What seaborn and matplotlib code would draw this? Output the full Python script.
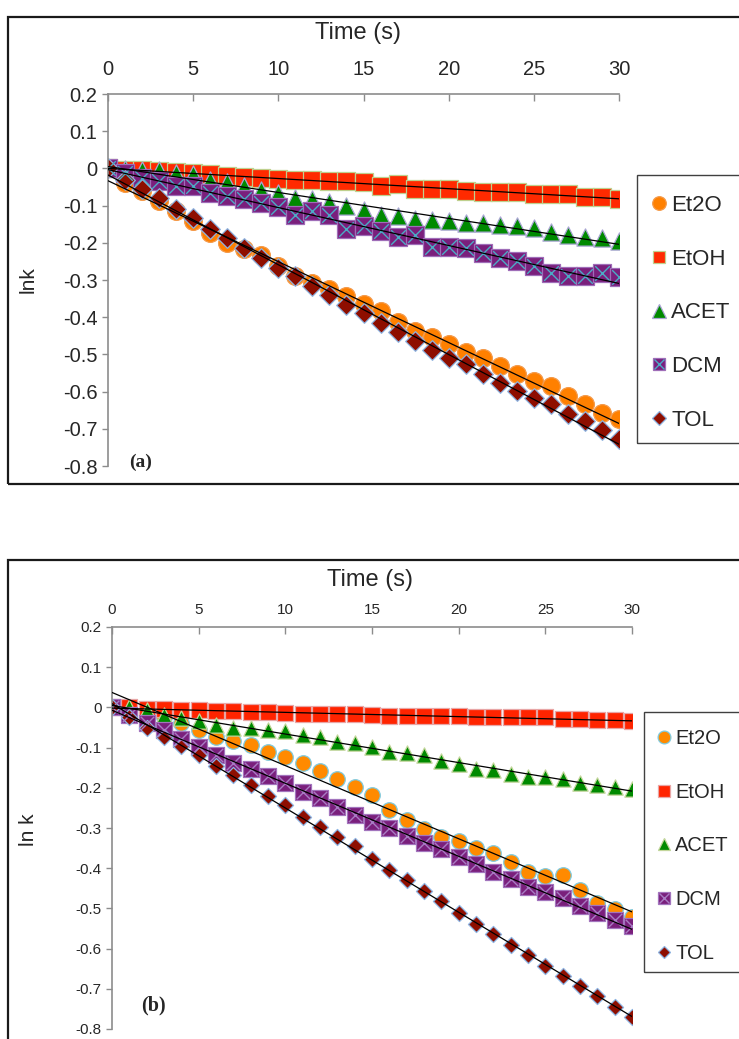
import matplotlib
matplotlib.use("Agg")
import matplotlib.pyplot as plt
from matplotlib.lines import Line2D
from matplotlib.patches import Rectangle
import numpy as np
import pandas as pd
import seaborn as sns

# ---------------------------------------------------------------- data
time_s = list(range(31))
solvents = ["Et2O", "EtOH", "ACET", "DCM", "TOL"]
x_ticks = [0, 5, 10, 15, 20, 25, 30]
y_ticks = [0.2, 0.1, 0, -0.1, -0.2, -0.3, -0.4, -0.5, -0.6, -0.7, -0.8]
y_tick_labels = ["0.2", "0.1", "0", "-0.1", "-0.2", "-0.3", "-0.4", "-0.5", "-0.6", "-0.7", "-0.8"]

# panel (a)
et2o_a = [0, -0.038, -0.062, -0.088, -0.115, -0.142, -0.173, -0.200, -0.218, -0.232,
          -0.263, -0.290, -0.308, -0.325, -0.343, -0.364, -0.384, -0.413, -0.437, -0.452,
          -0.473, -0.494, -0.509, -0.531, -0.554, -0.572, -0.585, -0.612, -0.634, -0.657, -0.673]
etoh_a = [0, -0.003, -0.005, -0.008, -0.010, -0.012, -0.015, -0.020, -0.022, -0.027,
          -0.029, -0.030, -0.031, -0.033, -0.035, -0.037, -0.047, -0.043, -0.055, -0.055,
          -0.056, -0.061, -0.064, -0.064, -0.064, -0.068, -0.070, -0.070, -0.076, -0.076, -0.081]
acet_a = [0, -0.002, -0.003, -0.003, -0.012, -0.016, -0.030, -0.036, -0.048, -0.058,
          -0.067, -0.079, -0.083, -0.091, -0.101, -0.113, -0.124, -0.128, -0.137, -0.139,
          -0.142, -0.146, -0.148, -0.151, -0.155, -0.160, -0.171, -0.178, -0.184, -0.186, -0.195]
dcm_a = [0, -0.012, -0.025, -0.034, -0.046, -0.047, -0.065, -0.074, -0.083, -0.092,
         -0.104, -0.125, -0.115, -0.126, -0.164, -0.155, -0.169, -0.184, -0.178, -0.210,
         -0.210, -0.214, -0.228, -0.241, -0.250, -0.263, -0.282, -0.289, -0.289, -0.280, -0.291]
tol_a = [0, -0.030, -0.056, -0.079, -0.110, -0.133, -0.164, -0.186, -0.213, -0.240,
         -0.267, -0.290, -0.316, -0.339, -0.366, -0.388, -0.415, -0.440, -0.464, -0.487,
         -0.509, -0.527, -0.554, -0.576, -0.599, -0.616, -0.634, -0.661, -0.679, -0.702, -0.728]

# panel (b)
et2o_b = [0, -0.005, -0.013, -0.023, -0.039, -0.055, -0.074, -0.083, -0.094, -0.110,
          -0.124, -0.139, -0.158, -0.179, -0.197, -0.218, -0.254, -0.280, -0.303, -0.322,
          -0.332, -0.350, -0.363, -0.384, -0.409, -0.419, -0.417, -0.454, -0.486, -0.502, -0.522]
etoh_b = [0, 0, -0.003, -0.004, -0.006, -0.006, -0.008, -0.008, -0.011, -0.012,
          -0.014, -0.017, -0.017, -0.017, -0.017, -0.019, -0.021, -0.021, -0.022, -0.022,
          -0.022, -0.025, -0.025, -0.025, -0.025, -0.025, -0.029, -0.029, -0.031, -0.031, -0.035]
acet_b = [0, 0, -0.006, -0.019, -0.027, -0.035, -0.044, -0.050, -0.050, -0.055,
          -0.058, -0.069, -0.074, -0.085, -0.089, -0.098, -0.110, -0.114, -0.118, -0.133,
          -0.141, -0.152, -0.156, -0.166, -0.172, -0.174, -0.179, -0.187, -0.193, -0.197, -0.204]
dcm_b = [0, -0.019, -0.038, -0.056, -0.079, -0.099, -0.118, -0.138, -0.154, -0.171,
         -0.189, -0.210, -0.226, -0.247, -0.268, -0.286, -0.301, -0.320, -0.338, -0.353,
         -0.373, -0.390, -0.409, -0.426, -0.447, -0.459, -0.475, -0.494, -0.512, -0.529, -0.544]
tol_b = [0, -0.025, -0.050, -0.073, -0.096, -0.118, -0.146, -0.168, -0.193, -0.220,
         -0.244, -0.272, -0.298, -0.323, -0.346, -0.377, -0.404, -0.429, -0.456, -0.482,
         -0.511, -0.539, -0.564, -0.590, -0.616, -0.643, -0.668, -0.692, -0.718, -0.745, -0.771]

panel_a = dict(zip(solvents, [et2o_a, etoh_a, acet_a, dcm_a, tol_a]))
panel_b = dict(zip(solvents, [et2o_b, etoh_b, acet_b, dcm_b, tol_b]))

# ---------------------------------------------------------------- styles
# ms: marker size (pt) in the plot, lg: marker size (pt) in the legend
style_a = {
    "Et2O": dict(marker="o", fc="#FF8000", ec="#F49A4A", ms=12.8, lg=9.8),
    "EtOH": dict(marker="s", fc="#FF2A00", ec="#BFD08E", ms=12.4, lg=9.2),
    "ACET": dict(marker="^", fc="#008A00", ec="#A9A6D3", ms=12.4, lg=9.6),
    "DCM":  dict(marker="s", fc="#7A1F7C", ec="#9F6DB8", ms=12.4, lg=9.2, cross="#4BACC6"),
    "TOL":  dict(marker="D", fc="#8E0E00", ec="#8DB4E2", ms=10.0, lg=6.8),
}
style_b = {
    "Et2O": dict(marker="o", fc="#FF8A00", ec="#7FCBE0", ms=11.2, lg=9.2),
    "EtOH": dict(marker="s", fc="#FF2400", ec="#E8A6A6", ms=11.4, lg=9.0),
    "ACET": dict(marker="^", fc="#008A00", ec="#C3D69B", ms=11.0, lg=9.2),
    "DCM":  dict(marker="s", fc="#7A1F7C", ec="#A274BD", ms=11.4, lg=9.0, cross="#A87CC4"),
    "TOL":  dict(marker="D", fc="#8E0E00", ec="#8DB4E2", ms=8.2, lg=6.4),
}

sns.set_style("white")
plt.rcParams["font.family"] = ["Liberation Sans", "DejaVu Sans"]

W, H = 739, 1039
fig = plt.figure(figsize=(W / 100, H / 100), dpi=100)


def fig_box(x0, y0, x1, y1):
    return [x0 / W, 1 - y1 / H, (x1 - x0) / W, (y1 - y0) / H]


def fx(px):
    return px / W


def fy(py):
    return 1 - py / H


def draw_panel(ax, data, styles, tick_fs, tick_pad):
    df = pd.DataFrame({"time": time_s, **data})
    for name in solvents:
        st = styles[name]
        sns.scatterplot(data=df, x="time", y=name, ax=ax, marker=st["marker"],
                        s=st["ms"] ** 2, color=st["fc"], edgecolor=st["ec"],
                        linewidth=0.9, zorder=2, legend=False)
        if "cross" in st:
            sns.scatterplot(data=df, x="time", y=name, ax=ax, marker="x",
                            s=(st["ms"] * 0.85) ** 2, color=st["cross"],
                            linewidth=1.0, zorder=2.1, legend=False)
    for name in solvents:
        sns.regplot(data=df, x="time", y=name, ax=ax, scatter=False, ci=None,
                    truncate=True, line_kws=dict(color="black", lw=0.9, zorder=3))
    ax.set_xlim(0, 30)
    ax.set_ylim(-0.8, 0.2)
    ax.set_xlabel("")
    ax.set_ylabel("")
    ax.xaxis.tick_top()
    ax.set_xticks(x_ticks)
    ax.set_xticklabels([str(t) for t in x_ticks], fontsize=tick_fs)
    ax.set_yticks(y_ticks)
    ax.set_yticklabels(y_tick_labels, fontsize=tick_fs)
    ax.tick_params(axis="x", direction="in", length=5, width=1, color="#8C8C8C",
                   pad=tick_pad, top=True, bottom=False)
    ax.tick_params(axis="y", direction="out", length=4.5, width=1, color="#8C8C8C",
                   pad=3, left=True)
    for side in ("bottom", "right"):
        ax.spines[side].set_visible(False)
    for side in ("top", "left"):
        ax.spines[side].set_color("#8C8C8C")
        ax.spines[side].set_linewidth(1.2)
    ax.set_facecolor("none")


def legend_handles(styles):
    handles = []
    for name in solvents:
        st = styles[name]
        h = Line2D([], [], linestyle="none", marker=st["marker"], markersize=st["lg"],
                   markerfacecolor=st["fc"], markeredgecolor=st["ec"], markeredgewidth=0.9)
        if "cross" in st:
            hx = Line2D([], [], linestyle="none", marker="x",
                        markersize=st["lg"] * 0.85, color=st["cross"],
                        markeredgewidth=1.0)
            h = (h, hx)
        handles.append(h)
    return handles


# outer frames of the two panels
fig.patches.append(Rectangle((fx(8), fy(484)), fx(900), (484 - 17) / H, transform=fig.transFigure,
                             fill=False, edgecolor="#1A1A1A", lw=1.6, clip_on=False))
fig.patches.append(Rectangle((fx(8), fy(1200)), fx(900), (1200 - 560) / H, transform=fig.transFigure,
                             fill=False, edgecolor="#1A1A1A", lw=1.6, clip_on=False))

# ---------------------------------------------------------------- panel (a)
ax1 = fig.add_axes(fig_box(108, 94, 619, 466))
draw_panel(ax1, panel_a, style_a, tick_fs=14.5, tick_pad=10.5)
fig.text(fx(358), fy(33), "Time (s)", fontsize=17, ha="center", va="center")
fig.text(fx(28), fy(280), "lnk", fontsize=15, rotation=90, ha="center", va="center")
fig.text(fx(141), fy(462), "(a)", fontsize=14, fontweight="bold",
         family=["Liberation Serif", "DejaVu Serif"], ha="center", va="center")
fig.patches.append(Rectangle((fx(637), fy(443)), fx(300), (443 - 175) / H, transform=fig.transFigure,
                             fill=False, edgecolor="#404040", lw=1.0, clip_on=False))
ax1.legend(legend_handles(style_a), solvents, loc="upper left",
           bbox_to_anchor=(fx(651), fy(195)), bbox_transform=fig.transFigure,
           frameon=False, fontsize=16, handlelength=0.7, handletextpad=0.2,
           labelspacing=1.47, borderpad=0, borderaxespad=0)

# ---------------------------------------------------------------- panel (b)
ax2 = fig.add_axes(fig_box(112, 627, 632, 1029))
draw_panel(ax2, panel_b, style_b, tick_fs=11, tick_pad=7)
fig.text(fx(370), fy(580), "Time (s)", fontsize=17, ha="center", va="center")
fig.text(fx(28), fy(830), "ln k", fontsize=15, rotation=90, ha="center", va="center")
fig.text(fx(153), fy(1005), "(b)", fontsize=14.5, fontweight="bold",
         family=["Liberation Serif", "DejaVu Serif"], ha="center", va="center")
fig.patches.append(Rectangle((fx(644), fy(972)), fx(300), (972 - 712) / H, transform=fig.transFigure,
                             fill=False, edgecolor="#404040", lw=1.0, clip_on=False))
ax2.legend(legend_handles(style_b), solvents, loc="upper left",
           bbox_to_anchor=(fx(657), fy(729)), bbox_transform=fig.transFigure,
           frameon=False, fontsize=14.5, handlelength=0.7, handletextpad=0.2,
           labelspacing=1.72, borderpad=0, borderaxespad=0)

fig.savefig("out.png", dpi=100, facecolor="white")
